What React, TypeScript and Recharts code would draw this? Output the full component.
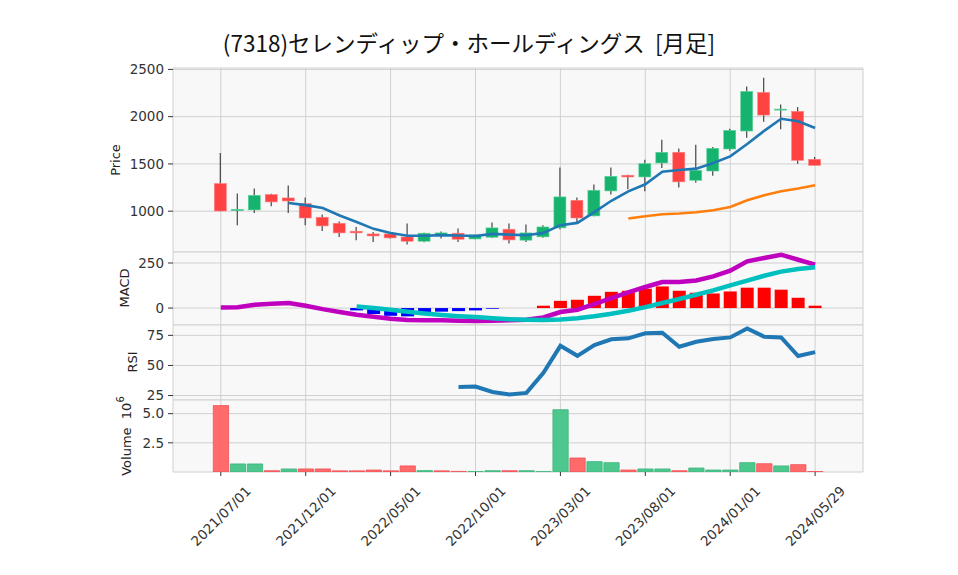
import React from 'react';
import { ComposedChart, Bar, Line, XAxis, YAxis, CartesianGrid, Cell } from 'recharts';

// monthly candles, last row is the latest day
const dates = [
  '2021/07/01', '2021/08/01', '2021/09/01', '2021/10/01', '2021/11/01', '2021/12/01',
  '2022/01/01', '2022/02/01', '2022/03/01', '2022/04/01', '2022/05/01', '2022/06/01',
  '2022/07/01', '2022/08/01', '2022/09/01', '2022/10/01', '2022/11/01', '2022/12/01',
  '2023/01/01', '2023/02/01', '2023/03/01', '2023/04/01', '2023/05/01', '2023/06/01',
  '2023/07/01', '2023/08/01', '2023/09/01', '2023/10/01', '2023/11/01', '2023/12/01',
  '2024/01/01', '2024/02/01', '2024/03/01', '2024/04/01', '2024/05/01', '2024/05/29',
];
const opens = [1292, 1005, 1013, 1176, 1140, 1080, 936, 872, 788, 759, 759, 727, 682, 750, 767, 706, 724, 809, 693, 728, 823, 1115, 950, 1214, 1380, 1362, 1510, 1623, 1327, 1425, 1658, 1848, 2257, 2070, 2056, 1549];
const highs = [1615, 1186, 1239, 1185, 1271, 1144, 964, 890, 833, 780, 762, 869, 772, 785, 816, 752, 880, 869, 860, 850, 1461, 1144, 1281, 1461, 1385, 1545, 1757, 1662, 1704, 1680, 1873, 2320, 2412, 2130, 2102, 1573];
const lows = [1000, 851, 981, 1052, 981, 851, 791, 728, 693, 675, 710, 647, 670, 712, 675, 703, 715, 658, 675, 720, 809, 880, 945, 1176, 1232, 1210, 1457, 1250, 1302, 1376, 1640, 1778, 1947, 1866, 1503, 1485];
const closes = [1002, 1020, 1168, 1098, 1108, 928, 844, 770, 770, 738, 717, 682, 767, 770, 703, 749, 823, 696, 770, 833, 1151, 928, 1221, 1369, 1362, 1503, 1623, 1310, 1433, 1665, 1855, 2267, 2017, 2080, 1538, 1485];

// moving averages, null before they start
const ma5 = [null, null, null, null, 1087, 1064, 1033, 955, 886, 813, 770, 740, 740, 747, 742, 738, 760, 752, 745, 770, 852, 876, 990, 1110, 1210, 1285, 1418, 1435, 1450, 1510, 1580, 1710, 1850, 1978, 1952, 1880];
const ma25 = [null, null, null, null, null, null, null, null, null, null, null, null, null, null, null, null, null, null, null, null, null, null, null, null, 922, 946, 967, 975, 989, 1010, 1045, 1115, 1168, 1210, 1239, 1274];

const macd = [3, 4, 18, 24, 28, 13, -6, -22, -37, -48, -59, -66, -67, -68, -71, -72, -70, -67, -65, -52, -22, -9, 22, 55, 87, 117, 144, 144, 153, 176, 207, 259, 278, 296, 268, 241];
const signal = [null, null, null, null, null, null, null, null, 9, 0, -9, -20, -30, -38, -45, -50, -57, -62, -65, -66, -63, -57, -46, -32, -15, 5, 28, 50, 74, 98, 126, 152, 179, 202, 217, 226];
const hist = [null, null, null, null, null, null, null, null, -13, -33, -43, -46, -28, -20, -17, -13, -4, 0, 0, 13, 40, 46, 68, 90, 96, 107, 120, 96, 85, 81, 92, 113, 113, 102, 57, 13];

const rsi = [null, null, null, null, null, null, null, null, null, null, null, null, null, null, 32.2, 32.5, 28, 25.8, 27.2, 43.8, 66.3, 58, 66.9, 71.7, 72.5, 76.7, 77.2, 65.5, 69.7, 71.9, 73.3, 80.8, 73.9, 73.3, 57.8, 61.1];

// volume in 10^6 shares, and whether its bar is drawn green
const volume = [5.69, 0.69, 0.69, 0.11, 0.26, 0.26, 0.26, 0.1, 0.1, 0.17, 0.1, 0.52, 0.12, 0.1, 0.05, 0.04, 0.11, 0.11, 0.11, 0.03, 5.34, 1.2, 0.89, 0.8, 0.17, 0.26, 0.26, 0.11, 0.34, 0.17, 0.17, 0.8, 0.71, 0.52, 0.63, 0.04];
const volumeUp = [0, 1, 1, 0, 1, 0, 0, 0, 0, 0, 0, 0, 1, 0, 0, 1, 1, 0, 1, 1, 1, 0, 1, 1, 0, 1, 1, 0, 1, 1, 1, 1, 0, 1, 0, 0];

const xTicks = [0, 5, 10, 15, 20, 25, 30, 35];

const rows = dates.map((d, i) => ({
  i,
  date: d,
  open: opens[i],
  high: highs[i],
  low: lows[i],
  close: closes[i],
  range: [lows[i], highs[i]],
  ma5: ma5[i],
  ma25: ma25[i],
  macd: macd[i],
  signal: signal[i],
  hist: hist[i],
  rsi: rsi[i],
  volume: volume[i],
}));

const W = 958;
const LEFT = 173;
const RIGHT = W - 863;
const PAD = 10; // room above/below each panel so edge tick labels are not clipped
const xDomain: [number, number] = [-2.815, 37.82];
const gridStroke = '#d0d0d0';
const panelFill = '#f8f8f8';
const tickStyle = { fontSize: 13.5, fill: '#333', fontFamily: 'DejaVu Sans' };
const labelFont = 'DejaVu Sans';
const panelMargin = { top: PAD, right: RIGHT, left: 0, bottom: PAD };

const Candle = (props: any) => {
  const { x, width, payload } = props;
  let { y, height } = props;
  if (height < 0) {
    y += height;
    height = -height;
  }
  const { open, close, high, low } = payload;
  const up = close >= open;
  const ppu = height / (high - low || 1);
  const yOf = (v: number) => y + (high - v) * ppu;
  const cx = x + width / 2;
  const top = yOf(Math.max(open, close));
  const bot = yOf(Math.min(open, close));
  return (
    <g>
      <line x1={cx} x2={cx} y1={y} y2={y + height} stroke="#444" strokeWidth={1.2} />
      <rect
        x={x}
        y={top}
        width={width}
        height={Math.max(bot - top, 1)}
        fill={up ? '#16b36e' : '#ff4242'}
        stroke={up ? '#5fd39b' : '#ff8080'}
        strokeWidth={0.6}
      />
    </g>
  );
};

const XTick = (props: any) => {
  const { x, y, payload } = props;
  return (
    <g transform={`translate(${x},${y + 38})`}>
      <text
        transform="rotate(-45)"
        textAnchor="middle"
        dominantBaseline="central"
        fontSize={13.5}
        fill="#333"
        fontFamily="DejaVu Sans"
      >
        {dates[payload.value]}
      </text>
    </g>
  );
};

const yAxisProps = {
  width: LEFT,
  axisLine: false,
  tickLine: { stroke: '#333' },
  tickSize: 5,
  tickMargin: 4,
  tick: tickStyle,
  interval: 0 as const,
  allowDataOverflow: true,
};

export default function App() {
  return (
    <div style={{ position: 'absolute', left: 0, top: 0, width: W, height: 575, background: '#fff' }}>
      {/* price: plot 68..252 */}
      <div style={{ position: 'absolute', left: 0, top: 68 - PAD }}>
        <ComposedChart width={W} height={184 + 2 * PAD} data={rows} margin={panelMargin}>
          <CartesianGrid stroke={gridStroke} fill={panelFill} />
          <XAxis type="number" dataKey="i" domain={xDomain} ticks={xTicks} hide allowDataOverflow />
          <YAxis {...yAxisProps} domain={[568, 2515]} ticks={[1000, 1500, 2000, 2500]} />
          <Bar dataKey="range" barSize={12} shape={(p: any) => <Candle {...p} />} isAnimationActive={false} />
          <Line dataKey="ma5" stroke="#1f77b4" strokeWidth={2.6} dot={false} isAnimationActive={false} />
          <Line dataKey="ma25" stroke="#ff7f0e" strokeWidth={2.6} dot={false} isAnimationActive={false} />
        </ComposedChart>
      </div>

      {/* MACD: plot 252..325 */}
      <div style={{ position: 'absolute', left: 0, top: 252 - PAD }}>
        <ComposedChart width={W} height={73 + 2 * PAD} data={rows} margin={panelMargin}>
          <CartesianGrid stroke={gridStroke} fill={panelFill} />
          <XAxis type="number" dataKey="i" domain={xDomain} ticks={xTicks} hide allowDataOverflow />
          <YAxis {...yAxisProps} domain={[-94, 311]} ticks={[0, 250]} />
          <Bar dataKey="hist" barSize={13} isAnimationActive={false}>
            {rows.map((r, i) => (
              <Cell key={i} fill={(r.hist ?? 0) >= 0 ? '#ff0000' : '#0000ff'} />
            ))}
          </Bar>
          <Line dataKey="macd" stroke="#bf00bf" strokeWidth={4.5} dot={false} isAnimationActive={false} />
          <Line dataKey="signal" stroke="#00bfbf" strokeWidth={4.5} dot={false} isAnimationActive={false} />
        </ComposedChart>
      </div>

      {/* RSI: plot 325..400 */}
      <div style={{ position: 'absolute', left: 0, top: 325 - PAD }}>
        <ComposedChart width={W} height={75 + 2 * PAD} data={rows} margin={panelMargin}>
          <CartesianGrid stroke={gridStroke} fill={panelFill} />
          <XAxis type="number" dataKey="i" domain={xDomain} ticks={xTicks} hide allowDataOverflow />
          <YAxis {...yAxisProps} domain={[21.3, 83.6]} ticks={[25, 50, 75]} />
          <Line dataKey="rsi" stroke="#1f77b4" strokeWidth={4} dot={false} isAnimationActive={false} />
        </ComposedChart>
      </div>

      {/* volume + dates: plot 400..472 */}
      <div style={{ position: 'absolute', left: 0, top: 400 - PAD }}>
        <ComposedChart width={W} height={175 + PAD} data={rows} margin={{ ...panelMargin, bottom: 0 }}>
          <CartesianGrid stroke={gridStroke} fill={panelFill} />
          <XAxis
            type="number"
            dataKey="i"
            domain={xDomain}
            ticks={xTicks}
            interval={0}
            allowDataOverflow
            height={103}
            axisLine={false}
            tickLine={{ stroke: '#333' }}
            tickSize={4}
            tick={<XTick />}
          />
          <YAxis {...yAxisProps} domain={[0, 6.17]} ticks={[2.5, 5]} tickFormatter={(v: number) => v.toFixed(1)} />
          <Bar dataKey="volume" barSize={17} isAnimationActive={false}>
            {rows.map((r, i) => (
              <Cell
                key={i}
                fill={volumeUp[i] ? '#4ec78f' : '#ff6b6b'}
                stroke={volumeUp[i] ? '#3ab57c' : '#f24f55'}
                strokeWidth={0.8}
              />
            ))}
          </Bar>
        </ComposedChart>
      </div>

      {/* title and axis labels */}
      <svg width={W} height={575} style={{ position: 'absolute', left: 0, top: 0, pointerEvents: 'none' }}>
        <text
          x={469}
          y={52}
          textAnchor="middle"
          fontSize={22.5}
          fill="#111"
          fontFamily="'Noto Sans CJK JP', sans-serif"
          style={{ whiteSpace: 'pre' }}
        >
          (7318)セレンディップ・ホールディングス  [月足]
        </text>
        <text transform="translate(115,160) rotate(-90)" textAnchor="middle" dominantBaseline="central" fontSize={13} fill="#222" fontFamily={labelFont}>
          Price
        </text>
        <text transform="translate(124,288) rotate(-90)" textAnchor="middle" dominantBaseline="central" fontSize={13} fill="#222" fontFamily={labelFont}>
          MACD
        </text>
        <text transform="translate(132,362) rotate(-90)" textAnchor="middle" dominantBaseline="central" fontSize={13} fill="#222" fontFamily={labelFont}>
          RSI
        </text>
        <text transform="translate(126,436) rotate(-90)" textAnchor="middle" dominantBaseline="central" fontSize={13} fill="#222" fontFamily={labelFont} style={{ whiteSpace: 'pre' }}>
          Volume  10<tspan dy={-6} fontSize={10}>6</tspan>
        </text>
      </svg>
    </div>
  );
}
